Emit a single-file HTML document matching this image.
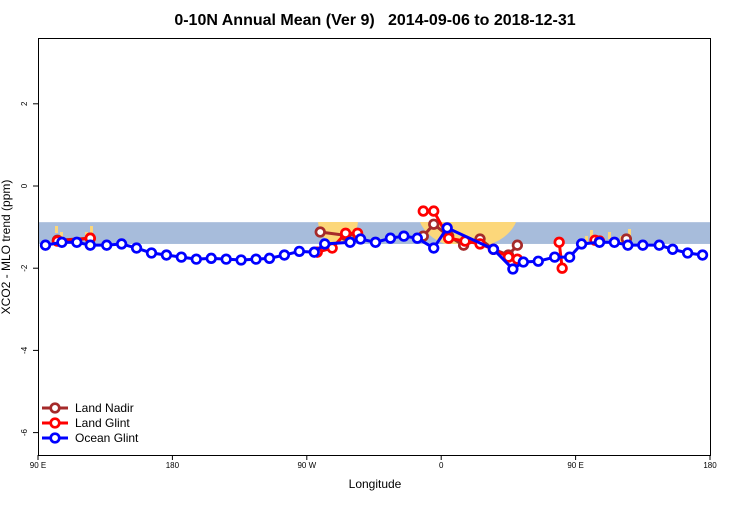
<!DOCTYPE html>
<html><head><meta charset="utf-8"><style>
body{margin:0;background:#fff;font-family:"Liberation Sans",sans-serif}
</style></head><body>
<svg width="750" height="500" xmlns="http://www.w3.org/2000/svg" font-family="Liberation Sans, sans-serif">
<text x="375" y="25" text-anchor="middle" font-size="16" font-weight="bold" style="white-space:pre">0-10N Annual Mean (Ver 9)&#160;&#160; 2014-09-06 to 2018-12-31</text>
<defs><clipPath id="band"><rect x="38" y="222" width="672" height="22"/></clipPath></defs>
<g id="bg"></g>
<g id="plot"></g>
<rect x="38.5" y="38.5" width="672" height="417" fill="none" stroke="#000"/>
<g id="axes" font-size="8"></g>
<text x="375" y="488" text-anchor="middle" font-size="12">Longitude</text>
<text transform="translate(10,247) rotate(-90)" text-anchor="middle" font-size="12">XCO2 - MLO trend (ppm)</text>
<g id="legend" font-size="12"></g>
</svg>
<script>
const xTicks=[90,180,270,360,450,540];
const xTickLabels=["90 E","180","90 W","0","90 E","180"];
const yTicks=[2,0,-2,-4,-6];
const bandRange=[-0.88,-1.41];
const oceanLon=[95,106,116,125,136,146,156,166,176,186,196,206,216,226,236,245,255,265,275,282,299,306,316,326,335,344,355,364,395,408,415,425,436,446,454,466,476,485,495,506,515,525,535];
const oceanVal=[-1.44,-1.37,-1.37,-1.44,-1.44,-1.41,-1.51,-1.63,-1.68,-1.73,-1.78,-1.76,-1.78,-1.8,-1.78,-1.76,-1.68,-1.59,-1.61,-1.41,-1.37,-1.29,-1.37,-1.27,-1.22,-1.27,-1.51,-1.02,-1.54,-2.02,-1.85,-1.83,-1.73,-1.73,-1.41,-1.37,-1.37,-1.44,-1.44,-1.44,-1.54,-1.63,-1.68];
const glintLon=[103,125,null,277,287,296,304,null,348,355,365,376,386,395,405,411,null,439,441,null,463,466];
const glintVal=[-1.34,-1.27,null,-1.61,-1.51,-1.15,-1.15,null,-0.61,-0.61,-1.27,-1.34,-1.41,-1.54,-1.73,-1.78,null,-1.37,-2.0,null,-1.32,-1.34];
const nadirLon=[103,125,null,279,296,304,null,348,355,365,375,386,395,405,411,null,484];
const nadirVal=[-1.32,-1.27,null,-1.12,-1.2,-1.17,null,-1.22,-0.93,-1.22,-1.44,-1.29,-1.54,-1.68,-1.44,null,-1.29];
const X=l=>38+(l-90)*672/450, Y=v=>186-v*41.1;
const NS="http://www.w3.org/2000/svg";
function mk(t,a,p){const e=document.createElementNS(NS,t);for(const k in a)e.setAttribute(k,a[k]);p.appendChild(e);return e;}
const bg=document.getElementById('bg');
const band=mk('rect',{x:38,y:Y(bandRange[0]),width:672,height:Y(bandRange[1])-Y(bandRange[0]),fill:'#a7bcdb'},bg);


const land=mk('g',{'clip-path':'url(#band)',fill:'#fcd77a'},bg);


mk('ellipse',{cx:338,cy:220,rx:20,ry:24},land);
mk('ellipse',{cx:468,cy:212,rx:50,ry:36},land);
[[55,226],[60,232],[85,232],[90,226],[92,236],[585,236],[590,230],[600,238],[628,229],[620,236],[608,232]].forEach(p=>mk('rect',{x:p[0],y:p[1],width:3,height:7},land));
const ax=document.getElementById('axes');
xTicks.forEach((t,i)=>{mk('line',{x1:X(t),x2:X(t),y1:455,y2:460,stroke:'#000'},ax);
const tx=mk('text',{x:X(t),y:468,'text-anchor':'middle'},ax);tx.textContent=xTickLabels[i];

});
yTicks.forEach(t=>{mk('line',{x1:33,x2:38,y1:Y(t),y2:Y(t),stroke:'#000'},ax);
const tx=mk('text',{transform:`translate(27,${Y(t)}) rotate(-90)`,'text-anchor':'middle'},ax);tx.textContent=t;

});
const plot=document.getElementById('plot');
function series(lons,vals,col,name){
 const g=mk('g',{},plot);
 
 
 let d='',pen=false;
 lons.forEach((l,i)=>{if(l===null){pen=false;return;}d+=(pen?'L':'M')+X(l)+' '+Y(vals[i]);pen=true;});
 mk('path',{d:d,fill:'none',stroke:col,'stroke-width':3},g);
 lons.forEach((l,i)=>{if(l===null)return;const c=mk('circle',{cx:X(l),cy:Y(vals[i]),r:4.3,fill:'#fff',stroke:col,'stroke-width':2.7},g);
 
 });
}
series(nadirLon,nadirVal,'#a52a2a','land-nadir-series');
series(glintLon,glintVal,'#ff0000','land-glint-series');
series(oceanLon,oceanVal,'#0000ff','ocean-glint-series');
const lg=document.getElementById('legend');
[['Land Nadir','#a52a2a'],['Land Glint','#ff0000'],['Ocean Glint','#0000ff']].forEach((e,i)=>{
 const y=408+i*15;const g=mk('g',{},lg);
 
 
 mk('line',{x1:42,x2:68,y1:y,y2:y,stroke:e[1],'stroke-width':3},g);
 mk('circle',{cx:55,cy:y,r:4.3,fill:'#fff',stroke:e[1],'stroke-width':2.7},g);
 const t=mk('text',{x:75,y:y+4},g);t.textContent=e[0];});
</script>
</body></html>
